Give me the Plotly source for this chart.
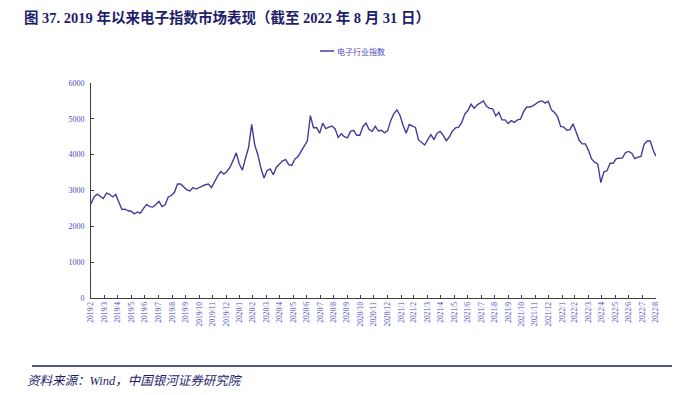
import plotly.graph_objects as go
import pandas as pd

# ---------------- data ----------------
series_name = "电子行业指数"
title_text = "图 37. 2019 年以来电子指数市场表现（截至 2022 年 8 月 31 日）"
source_text = "资料来源：Wind，中国银河证券研究院"

# weekly readings of the index (2019-02-28 ... 2022-08-31)
values = [
    2632, 2820, 2900, 2830, 2775, 2925, 2895, 2820, 2890, 2680,
    2470, 2480, 2435, 2420, 2350, 2400, 2370, 2500, 2610, 2550,
    2540, 2610, 2695, 2550, 2600, 2820, 2860, 2950, 3180, 3180,
    3100, 3020, 2986, 3080, 3040, 3070, 3120, 3160, 3180, 3080,
    3270, 3410, 3530, 3460, 3530, 3650, 3840, 4050, 3740, 3570,
    3900, 4200, 4846, 4270, 4000, 3620, 3350, 3560, 3600, 3440,
    3650, 3740, 3830, 3860, 3720, 3700, 3880, 3950, 4100, 4240,
    4380, 5090, 4750, 4760, 4600, 4880, 4730, 4770, 4800, 4720,
    4480, 4580, 4500, 4470, 4650, 4680, 4540, 4540, 4780, 4880,
    4700, 4650,
    4790, 4660, 4680, 4610, 4670, 4950, 5140, 5250,
    5100, 4820, 4600, 4840, 4800, 4760, 4410, 4340, 4270, 4420,
    4560, 4420, 4600, 4650, 4540, 4390, 4500, 4660, 4750, 4770,
    4900, 5140, 5230, 5410, 5290, 5390, 5450, 5500, 5350, 5290,
    5280, 5080, 5180, 4970, 4970, 4870, 4950, 4900, 4970, 4990,
    5200, 5330, 5330, 5360, 5420, 5480, 5500, 5440, 5490, 5250,
    5180, 5060, 4790, 4770, 4680, 4700, 4860, 4640, 4400, 4300,
    4300, 4120, 3880, 3790, 3740, 3220, 3520, 3550, 3760, 3760,
    3890, 3900, 3910, 4060, 4090, 4040, 3890, 3930, 3950, 4290,
    4380, 4380, 4110, 3960,
]
dates = list(pd.date_range("2019-02-28", "2022-08-25", freq="7D")) + [pd.Timestamp("2022-08-31")]

month_ticks = list(pd.date_range("2019-02-01", "2022-08-01", freq="MS") + pd.offsets.MonthEnd(0))
tick_labels = [f"{d.year}/{d.month}" for d in month_ticks]
y_ticks = [0, 1000, 2000, 3000, 4000, 5000, 6000]

# ---------------- layout helpers ----------------
W, H = 687, 395
OFF = 8  # page body margin offset in the screenshot
L, R, T, B = 91, 656, 83, 298


def px(x):
    return (x - L) / (R - L)


def py(y):
    return (B - y) / (B - T)


LINE_COLOR = "#433c9c"
TICK_COLOR = "#4b4bbf"
NAVY = "#1d1d6b"
SERIF = "Liberation Serif, Noto Sans CJK SC, serif"

fig = go.Figure()
fig.add_trace(go.Scatter(
    x=dates, y=values, mode="lines", name=series_name,
    line=dict(color=LINE_COLOR, width=1.4), showlegend=False,
))

fig.update_layout(
    width=W, height=H,
    margin=dict(l=L - OFF, r=W - (R - OFF), t=T - OFF, b=H - (B - OFF), pad=0),
    paper_bgcolor="white", plot_bgcolor="white",
    font=dict(family=SERIF, color=TICK_COLOR, size=8),
)
fig.update_xaxes(
    range=[month_ticks[0], month_ticks[-1]],
    tickmode="array", tickvals=month_ticks, ticktext=tick_labels,
    tickangle=-90, tickfont=dict(size=7.5, color=TICK_COLOR, family=SERIF),
    showgrid=False, zeroline=False,
    showline=True, linecolor="#404040", linewidth=1,
    ticks="inside", ticklen=3, tickcolor="#404040",
    automargin=False,
)
fig.update_yaxes(
    range=[0, 6000], tickmode="array", tickvals=y_ticks,
    tickfont=dict(size=8, color=TICK_COLOR, family=SERIF),
    showgrid=False, zeroline=False,
    showline=True, linecolor="#404040", linewidth=1,
    ticks="inside", ticklen=3, tickcolor="#404040",
    ticklabelstandoff=4, automargin=False,
)

annotations = [
    dict(text="<b>" + title_text + "</b>", x=px(22), y=py(17), xref="paper", yref="paper",
         xanchor="left", yanchor="middle", showarrow=False,
         font=dict(size=14.5, color=NAVY, family=SERIF)),
    dict(text=series_name, x=px(335), y=py(51), xref="paper", yref="paper",
         xanchor="left", yanchor="middle", showarrow=False,
         font=dict(size=8, color=TICK_COLOR, family="Noto Sans CJK SC")),
    dict(text="<i>" + source_text + "</i>", x=px(25), y=py(381), xref="paper", yref="paper",
         xanchor="left", yanchor="middle", showarrow=False,
         font=dict(size=12.5, color=NAVY, family=SERIF)),
]
shapes = [
    dict(type="line", xref="paper", yref="paper", x0=px(320), x1=px(334), y0=py(51), y1=py(51),
         line=dict(color=LINE_COLOR, width=1.5)),
    dict(type="line", xref="paper", yref="paper", x0=px(32), x1=px(672), y0=py(366), y1=py(366),
         line=dict(color=NAVY, width=1.5)),
]
fig.update_layout(annotations=annotations, shapes=shapes)

fig.write_html("out.html")
